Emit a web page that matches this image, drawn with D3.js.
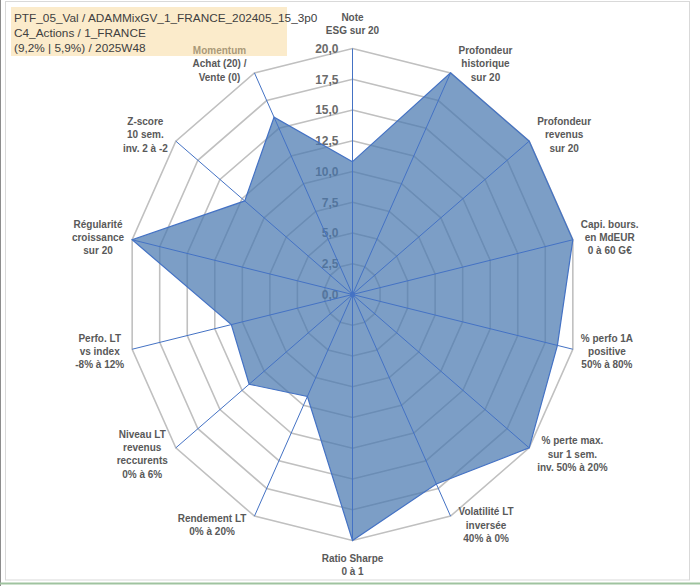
<!DOCTYPE html>
<html>
<head>
<meta charset="utf-8">
<script src="https://cdn.jsdelivr.net/npm/d3@7"></script>
<style>
  body { margin: 0; background: #fff; }
  svg { display: block; font-family: "Liberation Sans", Arial, sans-serif; }
</style>
</head>
<body>
<svg id="chart" width="700" height="586"></svg>
<script>
// === DONNÉES ===
const categories = [
  "Note\nESG sur 20",
  "Profondeur\nhistorique\nsur 20",
  "Profondeur\nrevenus\nsur 20",
  "Capi. bours.\nen MdEUR\n0 à 60 G€",
  "% perfo 1A\npositive\n50% à 80%",
  "% perte max.\nsur 1 sem.\ninv. 50% à 20%",
  "Volatilité LT\ninversée\n40% à 0%",
  "Ratio Sharpe\n0 à 1",
  "Rendement LT\n0% à 20%",
  "Niveau LT\nrevenus\nreccurents\n0% à 6%",
  "Perfo. LT\nvs index\n-8% à 12%",
  "Régularité\ncroissance\nsur 20",
  "Z-score\n10 sem.\ninv. 2 à -2",
  "Momentum\nAchat (20) /\nVente (0)"
];
const scores = [10.8, 20, 20, 20, 18.6, 20, 17.1, 20, 9.2, 11.7, 11.0, 20, 12.2, 16.0];
const tickValues = [0, 2.5, 5, 7.5, 10, 12.5, 15, 17.5, 20];
const tickLabels = ["0,0", "2,5", "5,0", "7,5", "10,0", "12,5", "15,0", "17,5", "20,0"];
const titleLines = [
  "PTF_05_Val / ADAMMixGV_1_FRANCE_202405_15_3p0",
  "C4_Actions / 1_FRANCE",
  "(9,2% | 5,9%) / 2025W48"
];

// === CONFIGURATION ===
const cx = 352.5, cy = 294.5;
const rx = 226, ry = 246;   // le graphique d'origine est légèrement étiré en hauteur
const colors = { grid: "#c0c0c0", spoke: "#4472c4", fill: "#4a78b0", text: "#595959" };

const svg = d3.select("#chart");

// cadre
svg.append("line").attr("x1", 0.5).attr("x2", 0.5).attr("y1", 0).attr("y2", 586)
  .attr("stroke", "#8c8c8c");
svg.append("rect").attr("x", 5.5).attr("y", 1.5).attr("width", 684).attr("height", 578.5)
  .attr("fill", "none").attr("stroke", "#d9d9d9");
svg.append("line").attr("x1", 0).attr("x2", 700).attr("y1", 583.5).attr("y2", 583.5)
  .attr("stroke", "#9fc39f").attr("stroke-width", 2);

const rScale = d3.scaleLinear().domain([0, 20]).range([0, 1]);
const angle = d3.scalePoint().domain(d3.range(categories.length))
  .range([0, 2 * Math.PI * (categories.length - 1) / categories.length]);

const px = (i, v) => cx + rx * rScale(v) * Math.sin(angle(i));
const py = (i, v) => cy - ry * rScale(v) * Math.cos(angle(i));

const idx = d3.range(categories.length);
const g = svg.append("g");

// === GRILLE ===
g.selectAll(".ring")
  .data(tickValues.slice(1))
  .enter()
  .append("polygon")
  .attr("class", "ring")
  .attr("points", t => idx.map(i => [px(i, t), py(i, t)].join(",")).join(" "))
  .attr("fill", "none")
  .attr("stroke", colors.grid)
  .attr("stroke-width", 1.6);

// === GRADUATIONS ===
g.selectAll(".tick")
  .data(tickValues)
  .enter()
  .append("text")
  .attr("class", "tick")
  .attr("x", cx - 14)
  .attr("y", t => py(0, t))
  .attr("dy", "0.36em")
  .attr("text-anchor", "end")
  .style("font-size", "12px")
  .style("font-weight", "bold")
  .style("fill", "#6b6b6b")
  .text((t, i) => tickLabels[i]);

// === SURFACE ===
const line = d3.line().curve(d3.curveLinearClosed);
g.append("path")
  .attr("d", line(scores.map((v, i) => [px(i, v), py(i, v)])))
  .attr("fill", colors.fill)
  .attr("fill-opacity", 0.72)
  .attr("stroke", colors.spoke)
  .attr("stroke-width", 1.2);

// === AXES ===
g.selectAll(".spoke")
  .data(idx)
  .enter()
  .append("line")
  .attr("class", "spoke")
  .attr("x1", cx).attr("y1", cy)
  .attr("x2", i => px(i, 20)).attr("y2", i => py(i, 20))
  .attr("stroke", colors.spoke)
  .attr("stroke-width", 1);

g.append("circle").attr("cx", cx).attr("cy", cy).attr("r", 2.5).attr("fill", colors.spoke);

// === LIBELLÉS ===
const lh = 13.4;
idx.forEach(i => {
  const lines = categories[i].split("\n");
  const a = angle(i);
  const s = Math.sin(a), c = Math.cos(a);
  const t = g.append("text")
    .attr("text-anchor", "middle")
    .style("font-size", "10px")
    .style("font-weight", "bold")
    .style("fill", colors.text);
  lines.forEach(l => t.append("tspan").text(l));
  let w = 0;
  t.selectAll("tspan").each(function() { w = Math.max(w, this.getComputedTextLength()); });
  const x0 = px(i, 20), y0 = py(i, 20);
  let lx, ly;
  if (Math.abs(s) < 0.01) {
    lx = x0;
    ly = y0 - Math.sign(c) * (lines.length * lh / 2 + 11);
  } else {
    lx = x0 + Math.sign(s) * (w / 2 + 8);
    ly = y0 - c * 10;
  }
  t.selectAll("tspan")
    .attr("x", lx)
    .attr("y", (d, k) => ly + (k - (lines.length - 1) / 2) * lh)
    .attr("dy", "0.35em");
});

// === CADRE DE TITRE ===
svg.append("rect")
  .attr("x", 11).attr("y", 7).attr("width", 276).attr("height", 49)
  .attr("fill", "#f8d898").attr("fill-opacity", 0.5);

svg.append("g").selectAll("text")
  .data(titleLines)
  .enter()
  .append("text")
  .attr("x", 14)
  .attr("y", (d, i) => 17.5 + i * 15)
  .attr("dy", "0.35em")
  .style("font-size", "11.8px")
  .style("fill", "#404040")
  .text(d => d);
</script>
</body>
</html>
